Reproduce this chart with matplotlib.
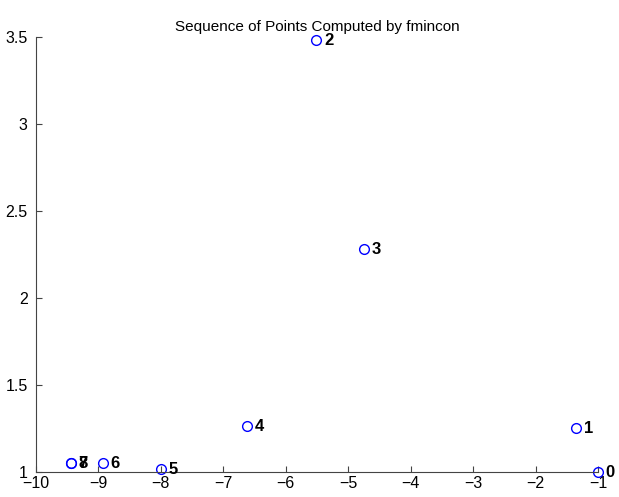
import matplotlib
matplotlib.use("Agg")
import matplotlib.pyplot as plt

# points visited by the solver
xs = [-1.0, -1.35, -5.51, -4.74, -6.62, -8.0, -8.93, -9.44, -9.44]
ys = [1.0, 1.253, 3.48, 2.28, 1.264, 1.017, 1.05, 1.05, 1.05]
labels = [str(i) for i in range(len(xs))]

plt.rcParams['font.family'] = ['Liberation Sans', 'DejaVu Sans']

fig = plt.figure(figsize=[6.19, 4.97], dpi=100)
ax = fig.add_axes([0.058, 0.050, 0.908, 0.876])

ax.plot(xs, ys, 'o', mfc='none', mec='blue', mew=1.0, ms=7, clip_on=False)
for x, y, s in zip(xs, ys, labels):
    ax.annotate(s, (x, y), xytext=(5.5, 0), textcoords='offset points',
                va='center', ha='left', fontsize=12, fontweight='bold')

ax.set_xlim(-10, -1)
ax.set_ylim(1, 3.5)
ax.set_xticks(range(-10, 0))
ax.set_yticks([1, 1.5, 2, 2.5, 3, 3.5])
ax.set_yticklabels(['1', '1.5', '2', '2.5', '3', '3.5'])
ax.set_xticklabels(['\u2212%d' % -v for v in range(-10, 0)])

for side in ['top', 'right']:
    ax.spines[side].set_visible(False)
for side in ['left', 'bottom']:
    ax.spines[side].set_color('#444444')
ax.tick_params(direction='in', length=4, color='#444444', labelsize=11.5)
ax.tick_params(axis='y', pad=6)
ax.tick_params(axis='x', pad=3)

ax.set_title('Sequence of Points Computed by fmincon', fontsize=11, pad=4)

fig.savefig('out.png', dpi=100)
